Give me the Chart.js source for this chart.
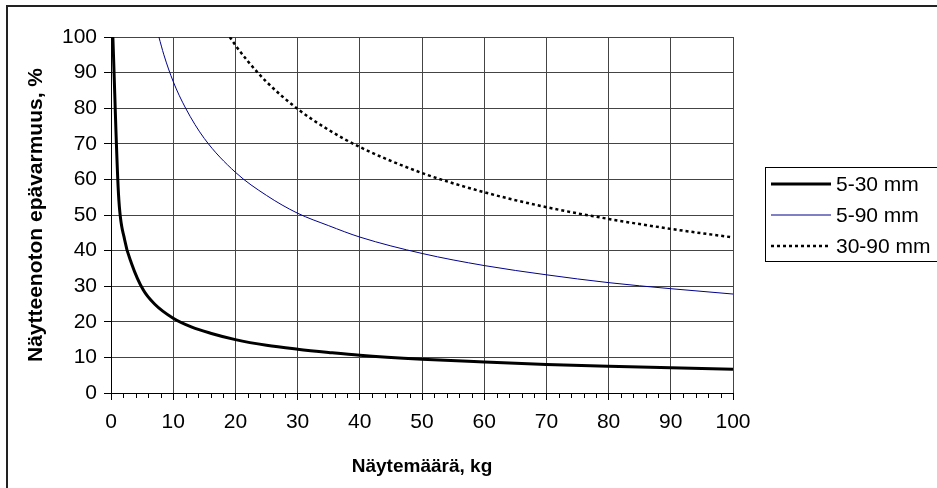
<!DOCTYPE html>
<html>
<head>
<meta charset="utf-8">
<script src="https://cdn.jsdelivr.net/npm/chart.js@4"></script>
<style>
  html, body { margin: 0; padding: 0; background: #fff; }
  #wrap { width: 937px; height: 488px; }
</style>
</head>
<body>
<div id="wrap"><canvas id="myChart" width="937" height="488"></canvas></div>
<script>
const seriesNames = ['5-30 mm', '5-90 mm', '30-90 mm'];

// 5-30 mm
const mass530 = [0.3, 1.2, 2.2, 3.3, 5.2, 7, 10, 13, 16, 20, 25, 30, 35, 40, 50, 60, 70, 80, 90, 100];
const unc530 = [100, 56, 43, 36.4, 28.9, 25, 21, 18.5, 16.8, 15, 13.4, 12.3, 11.4, 10.6, 9.5, 8.7, 8, 7.5, 7.1, 6.7];

// 5-90 mm
const mass590 = [7.7, 8.5, 10, 12, 15, 20, 25, 30, 35, 40, 50, 60, 70, 80, 90, 100];
const unc590 = [100, 95, 87.5, 80, 71.5, 62, 55.5, 50.5, 47, 43.8, 39.2, 35.8, 33.2, 31, 29.3, 27.8];

// 30-90 mm
const mass3090 = [19.1, 20, 22, 25, 30, 35, 40, 50, 60, 70, 80, 90, 100];
const unc3090 = [100, 97.7, 93.2, 87.4, 79.8, 73.9, 69.1, 61.8, 56.4, 52.2, 48.9, 46.1, 43.7];

const xTicks = [0, 10, 20, 30, 40, 50, 60, 70, 80, 90, 100];
const yTicks = [0, 10, 20, 30, 40, 50, 60, 70, 80, 90, 100];

const toPoints = (xs, ys) => xs.map((x, i) => ({ x: x, y: ys[i] }));

const FONT = 'Liberation Sans, Arial, sans-serif';

// outer frame, minor x ticks and the boxed legend
const extras = {
    id: 'extras',
    afterDraw(chart) {
        const ctx = chart.ctx;
        const xs = chart.scales.x;
        const area = chart.chartArea;
        ctx.save();

        // frame (only top and left are inside the picture)
        ctx.strokeStyle = '#222';
        ctx.lineWidth = 2;
        ctx.beginPath();
        ctx.moveTo(7, 488);
        ctx.lineTo(7, 6);
        ctx.lineTo(937, 6);
        ctx.stroke();

        // minor ticks every 2 kg
        ctx.strokeStyle = '#000';
        ctx.lineWidth = 1;
        ctx.beginPath();
        for (let v = 0; v <= 100; v += 2) {
            if (v % 10 === 0) continue;
            const px = Math.round(xs.getPixelForValue(v)) + 0.5;
            ctx.moveTo(px, area.bottom);
            ctx.lineTo(px, area.bottom + 5);
        }
        ctx.stroke();

        // legend
        const left = 765, top = 167, rowH = 31;
        ctx.lineWidth = 1;
        ctx.strokeStyle = '#000';
        ctx.strokeRect(left + 0.5, top + 0.5, 200, 94);
        ctx.font = '21px ' + FONT;
        ctx.textBaseline = 'middle';
        ctx.fillStyle = '#000';
        chart.data.datasets.forEach((ds, i) => {
            const y = top + 17 + i * rowH;
            ctx.save();
            ctx.strokeStyle = ds.borderColor;
            ctx.lineWidth = ds.borderWidth;
            ctx.setLineDash(ds.borderDash || []);
            ctx.beginPath();
            ctx.moveTo(771, y);
            ctx.lineTo(831, y);
            ctx.stroke();
            ctx.restore();
            ctx.fillText(ds.label, 836, y + 1);
        });
        ctx.restore();
    }
};

const ctx = document.getElementById('myChart').getContext('2d');
const chart = new Chart(ctx, {
    type: 'scatter',
    data: {
        datasets: [
            {
                label: seriesNames[0],
                data: toPoints(mass530, unc530),
                borderColor: '#000',
                borderWidth: 3,
                showLine: true,
                pointRadius: 0,
                cubicInterpolationMode: 'monotone',
            },
            {
                label: seriesNames[1],
                data: toPoints(mass590, unc590),
                borderColor: '#00008b',
                borderWidth: 1,
                showLine: true,
                pointRadius: 0,
                cubicInterpolationMode: 'monotone',
            },
            {
                label: seriesNames[2],
                data: toPoints(mass3090, unc3090),
                borderColor: '#000',
                borderWidth: 2.5,
                borderDash: [3, 3],
                showLine: true,
                pointRadius: 0,
                cubicInterpolationMode: 'monotone',
            }
        ]
    },
    options: {
        responsive: false,
        animation: false,
        layout: { padding: { left: 0, top: 37, right: 204, bottom: 0 } },
        plugins: {
            legend: { display: false },
            tooltip: { enabled: false }
        },
        scales: {
            x: {
                type: 'linear',
                min: 0,
                max: 100,
                afterBuildTicks: s => { s.ticks = xTicks.map(v => ({ value: v })); },
                afterFit: s => { s.height = 95; },
                grid: { color: '#444', tickColor: '#000', tickLength: 7 },
                border: { color: '#000', width: 1 },
                ticks: { color: '#000', font: { family: FONT, size: 21 }, padding: 10, maxRotation: 0 },
                title: {
                    display: true,
                    text: 'Näytemäärä, kg',
                    color: '#000',
                    font: { family: FONT, size: 19, weight: 'bold' },
                    padding: { top: 0, bottom: 10 }
                }
            },
            y: {
                min: 0,
                max: 100,
                afterBuildTicks: s => { s.ticks = yTicks.map(v => ({ value: v })); },
                afterFit: s => { s.width = 111; },
                grid: { color: '#444', tickColor: '#000', tickLength: 7 },
                border: { color: '#000', width: 1 },
                ticks: { color: '#000', font: { family: FONT, size: 21 }, padding: 7 },
                title: {
                    display: true,
                    text: 'Näytteenoton epävarmuus, %',
                    color: '#000',
                    font: { family: FONT, size: 21, weight: 'bold' },
                    padding: { top: 24, bottom: 0 }
                }
            }
        }
    },
    plugins: [extras]
});
</script>
</body>
</html>
